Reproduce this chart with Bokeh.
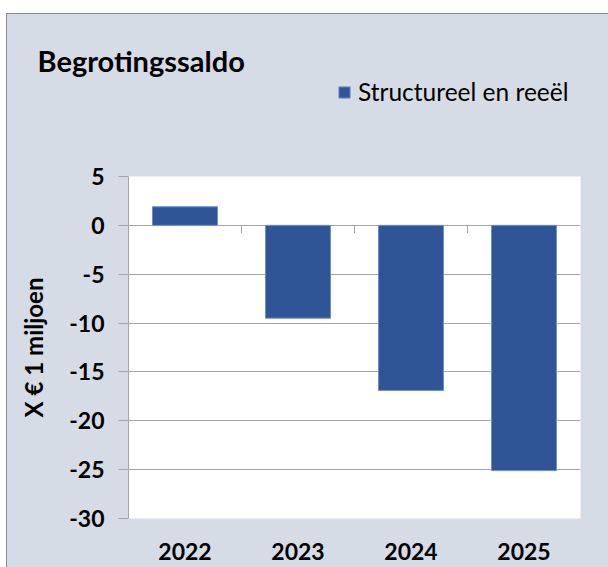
from bokeh.plotting import figure
from bokeh.layouts import column
from bokeh.models import (Legend, LegendItem, FixedTicker, ColumnDataSource, Range1d)
from bokeh.embed import file_html
from bokeh.resources import INLINE

years = ["2022", "2023", "2024", "2025"]
saldo = [1.9, -9.5, -16.9, -25.1]
y_ticks = [-30, -25, -20, -15, -10, -5, 0, 5]
title_text = "Begrotingssaldo"
series_name = "Structureel en reeël"
y_label = "X € 1 miljoen"

BG = "#d6dce5"
BAR = "#2f5597"
BAR_EDGE = "#6d8fce"
GRID = "#a6a6a6"
FONT = "Lato"

W = 602
HEAD_H = 148
HEAD_TOP = 63

src = ColumnDataSource(dict(year=years, saldo=saldo))

# ---------- header: title + legend ----------
head = figure(width=W, height=HEAD_H, output_backend="svg", toolbar_location=None,
              x_range=years, y_range=Range1d(50, 51),
              x_axis_location=None, y_axis_location=None,
              min_border_left=121, min_border_right=29,
              min_border_top=HEAD_TOP, min_border_bottom=0)
head.grid.grid_line_color = None
head.border_fill_color = BG
head.background_fill_color = BG
head.outline_line_color = None
head.title.text = title_text
head.title.align = "left"
head.title.offset = -91
head.title.standoff = 0
head.title.text_font = FONT
head.title.text_font_style = "bold"
head.title.text_font_size = "29px"
head.title.text_color = "black"

# legend swatch renderer (same data; bars lie outside this header's visible range)
swatch = head.vbar(x="year", top="saldo", bottom=0, width=0.575, source=src,
                   fill_color=BAR, line_color=BAR_EDGE)
legend = Legend(items=[LegendItem(label=series_name, renderers=[swatch])],
                location=(209, 56), padding=0, margin=0, spacing=0,
                glyph_width=14, glyph_height=14, label_standoff=7,
                label_height=22,
                label_text_font=FONT, label_text_font_size="24.5px",
                label_text_color="black",
                background_fill_alpha=0, border_line_alpha=0)
head.add_layout(legend, "center")

# ---------- main chart ----------
p = figure(x_range=years, y_range=(-30, 5), width=W, height=406,
           output_backend="svg", toolbar_location=None,
           min_border_left=121, min_border_right=29,
           min_border_top=14, min_border_bottom=50)
p.border_fill_color = BG
p.background_fill_color = "white"
p.outline_line_color = None

r = p.vbar(x="year", top="saldo", bottom=0, width=0.575, source=src,
           fill_color=BAR, line_color=BAR_EDGE, line_width=1)

# category separator ticks on the zero line
sep_x = [(y, 0.5) for y in years[:-1]]
p.segment(x0=sep_x, y0=[0] * len(sep_x), x1=sep_x, y1=[-0.8] * len(sep_x),
          line_color=GRID, line_width=1)

p.xgrid.grid_line_color = None
p.ygrid.grid_line_color = GRID
p.ygrid.grid_line_width = 1

yax = p.yaxis[0]
yax.ticker = FixedTicker(ticks=y_ticks)
yax.major_label_overrides = {t: str(t) for t in y_ticks}
yax.axis_line_color = GRID
yax.major_tick_line_color = GRID
yax.major_tick_out = 10
yax.major_tick_in = 0
yax.minor_tick_line_color = None
yax.major_label_text_font = FONT
yax.major_label_text_font_style = "bold"
yax.major_label_text_font_size = "23px"
yax.major_label_text_color = "black"
yax.major_label_standoff = 14
yax.axis_label = y_label
yax.axis_label_text_font = FONT
yax.axis_label_text_font_style = "bold"
yax.axis_label_text_font_size = "24px"
yax.axis_label_text_color = "black"
yax.axis_label_standoff = 18

xax = p.xaxis[0]
xax.axis_line_color = None
xax.major_tick_line_color = None
xax.minor_tick_line_color = None
xax.major_label_text_font = FONT
xax.major_label_text_font_style = "bold"
xax.major_label_text_font_size = "23px"
xax.major_label_text_color = "black"
xax.major_label_standoff = 18

layout = column(head, p, spacing=0, margin=(13, 0, 0, 6),
                styles={"border-left": "1px solid #8c8c8c",
                        "border-top": "1px solid #8c8c8c",
                        "background-color": BG})

open("out.html", "w").write(file_html(layout, INLINE))
